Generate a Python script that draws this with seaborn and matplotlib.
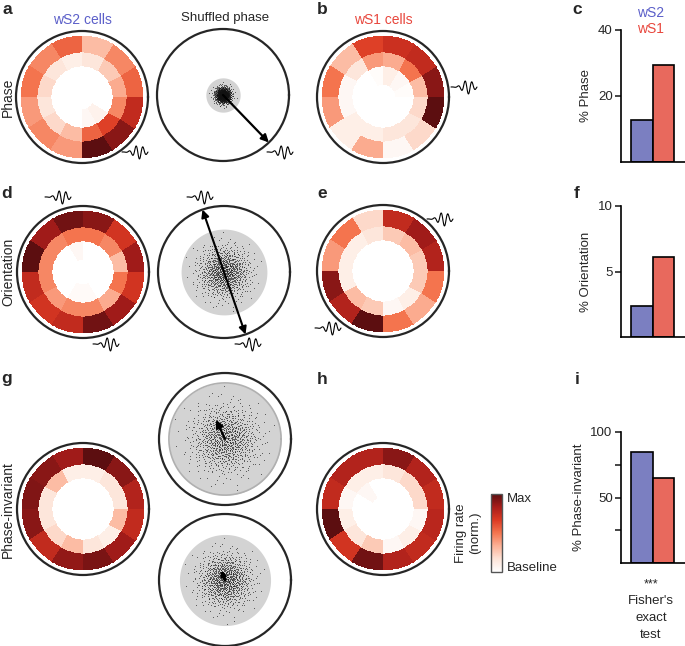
import numpy as np
import matplotlib
matplotlib.use("Agg")
import matplotlib.pyplot as plt
from matplotlib.colors import LinearSegmentedColormap, Normalize
from matplotlib.cm import ScalarMappable
import seaborn as sns

# ---- data ----
# firing rate (norm.) per 30 deg sector, sectors start at 0 deg (east), counter-clockwise
# rings: inner, middle, outer
phase_ws2 = [
    [0, 0, 0, 0, 0, 0, 0, 0, 0, 0.05, 0.08, 0],
    [0.35, 0.25, 0.15, 0.1, 0.15, 0.2, 0.15, 0.2, 0.3, 0.55, 0.65, 0.45],
    [0.55, 0.45, 0.3, 0.55, 0.45, 0.5, 0.4, 0.45, 0.4, 1.0, 0.9, 0.75],
]
phase_ws1 = [
    [0.02, 0.05, 0.1, 0.02, 0, 0, 0, 0, 0, 0, 0, 0],
    [0.3, 0.5, 0.35, 0.4, 0.15, 0.05, 0.05, 0.1, 0.1, 0.15, 0.15, 0.2],
    [0.9, 0.75, 0.72, 0.65, 0.3, 0.5, 0.4, 0.1, 0.35, 0.05, 0.2, 1.0],
]
orient_ws2 = [
    [0, 0, 0, 0.05, 0, 0, 0, 0, 0.03, 0.03, 0, 0],
    [0.3, 0.45, 0.5, 0.5, 0.45, 0.45, 0.45, 0.4, 0.45, 0.45, 0.35, 0.5],
    [0.85, 0.7, 0.9, 0.95, 0.85, 1.0, 0.75, 0.7, 0.75, 0.95, 0.85, 0.7],
]
orient_ws1 = [
    [0, 0, 0, 0, 0, 0, 0, 0, 0, 0, 0, 0],
    [0.25, 0.3, 0.25, 0.15, 0.1, 0.1, 0.1, 0.3, 0.25, 0.05, 0.1, 0.25],
    [0.8, 0.85, 0.75, 0.2, 0.5, 0.4, 0.9, 0.8, 1.0, 0.5, 0.35, 0.5],
]
invar_ws2 = [
    [0, 0, 0, 0, 0, 0, 0, 0, 0, 0, 0, 0],
    [0.15, 0.15, 0.1, 0.1, 0.3, 0.15, 0.15, 0.2, 0.3, 0.15, 0.1, 0.3],
    [0.8, 0.9, 1.0, 0.85, 0.9, 0.92, 0.9, 0.75, 0.88, 0.93, 0.85, 0.75],
]
invar_ws1 = [
    [0, 0, 0, 0, 0.05, 0, 0, 0, 0, 0, 0, 0],
    [0.2, 0.2, 0.15, 0.1, 0.1, 0.05, 0.1, 0.15, 0.25, 0.05, 0.1, 0.05],
    [0.75, 0.8, 0.9, 0.8, 0.8, 0.75, 1.0, 0.7, 0.95, 0.8, 0.75, 0.78],
]
ring_edges = [0.2, 0.5, 0.73, 1.0]

# shuffled distributions: spread of cloud, grey area radius, arrow angle (deg), arrow length
shuf_sigma = [0.06, 0.19, 0.25, 0.2]
shuf_grey = [0.26, 0.65, 0.85, 0.69]
shuf_angle = [-46, -71, 115, 112]
shuf_len = [1.0, 1.0, 0.32, 0.16]

groups = ["wS2", "wS1"]
pct_phase = [12.7, 29.4]
pct_orient = [2.4, 6.1]
pct_invar = [85, 64.6]

blue = "#7b7fc1"
red = "#e8695d"
blue_txt = "#5b5fc9"
red_txt = "#e8473d"

sns.set_style("white")
plt.rcParams["font.family"] = ["Liberation Sans", "DejaVu Sans"]

W, H = 685, 646
fig = plt.figure(figsize=(W / 100, H / 100), dpi=100)

cmap = LinearSegmentedColormap.from_list(
    "fr", ["#ffffff", "#fde3d7", "#fcb196", "#f4754f", "#dc3a23", "#a81d1a", "#5c0e10"])


def fx(x):
    return x / W


def fy(y):
    return 1 - y / H


def halton(n, base):
    out = np.zeros(n)
    for i in range(n):
        f, r, k = 1.0, 0.0, i + 1
        while k > 0:
            f /= base
            r += f * (k % base)
            k //= base
        out[i] = r
    return out


def circle_ax(cx, cy, r=66):
    ax = fig.add_axes([fx(cx - r), fy(cy + r), 2 * r / W, 2 * r / H], projection="polar")
    ax.set_xticks([])
    ax.set_yticks([])
    ax.grid(False)
    ax.spines["polar"].set_linewidth(1.6)
    return ax


def heat(cx, cy, vals):
    ax = circle_ax(cx, cy)
    sub = 10
    th = np.linspace(0, 2 * np.pi, 12 * sub + 1)
    ax.pcolormesh(th, ring_edges, np.repeat(np.array(vals), sub, axis=1),
                  cmap=cmap, vmin=0, vmax=1, shading="flat", linewidth=0, antialiased=False)
    ax.set_ylim(0, 1.08)
    return ax


def shuffled(cx, cy, i, double=False, edge=None):
    ax = circle_ax(cx, cy)
    tc = np.linspace(0, 2 * np.pi, 200)
    ax.fill_between(tc, 0, shuf_grey[i], color="#d3d3d3", lw=0)
    if edge:
        ax.plot(tc, np.full_like(tc, shuf_grey[i]), color=edge, lw=1.2)
    # deterministic low-discrepancy cloud with a 2D gaussian profile
    n = 1000
    u1, u2 = halton(n, 2), halton(n, 3)
    rr = shuf_sigma[i] * np.sqrt(-2 * np.log(u1))
    tt = 2 * np.pi * u2
    keep = rr < shuf_grey[i] * 0.97
    ax.scatter(tt[keep], rr[keep], s=0.25, color="#111111", linewidths=0)
    a = np.deg2rad(shuf_angle[i])
    if double:
        ax.annotate("", xy=(a, shuf_len[i]), xytext=(a + np.pi, shuf_len[i]),
                    arrowprops=dict(arrowstyle="<|-|>", color="black", lw=1.5,
                                    shrinkA=0, shrinkB=0, mutation_scale=11))
    else:
        ax.annotate("", xy=(a, shuf_len[i]), xytext=(0, 0),
                    arrowprops=dict(arrowstyle="-|>", color="black", lw=1.6 if i != 3 else 2.2,
                                    shrinkA=0, shrinkB=0, mutation_scale=11 if i != 3 else 6))
    ax.set_ylim(0, 1.0)
    return ax


heat(82, 97, phase_ws2)
shuffled(223, 95, 0)
heat(383, 97, phase_ws1)
heat(83, 272, orient_ws2)
shuffled(224, 272, 1, double=True)
heat(383, 271, orient_ws1)
heat(83, 509, invar_ws2)
shuffled(225, 439, 2, edge="#b0b0b0")
shuffled(225, 580, 3)
heat(383, 509, invar_ws1)

# stimulus wavelets (overlay)
ov = fig.add_axes([0, 0, 1, 1], zorder=5)
ov.set_xlim(0, W)
ov.set_ylim(H, 0)
ov.axis("off")
ov.patch.set_alpha(0)
wave_pos = [(135, 152), (280, 152), (464, 87), (58, 197), (106, 344),
            (200, 197), (248, 344), (440, 219), (328, 328)]
u = np.linspace(-1, 1, 120)
wave = np.sin(2 * np.pi * 1.9 * u + 0.6) * np.exp(-((u - 0.3) ** 2) / 0.3)
for (wx, wy) in wave_pos:
    ov.plot(wx + 13 * u, wy - 7 * wave, color="black", lw=0.8)

# colorbar
cax = fig.add_axes([fx(491), fy(572), 11 / W, 78 / H])
cb = fig.colorbar(ScalarMappable(norm=Normalize(0, 1), cmap=cmap), cax=cax)
cb.set_ticks([])
cb.outline.set_edgecolor("#555555")
cb.outline.set_linewidth(1.0)
fig.text(fx(507), fy(499), "Max", fontsize=9.5, va="center", ha="left")
fig.text(fx(507), fy(568), "Baseline", fontsize=9.5, va="center", ha="left")
fig.text(fx(468), fy(533), "Firing rate\n(norm.)", fontsize=9.5, rotation=90,
         va="center", ha="center", multialignment="center")


# bar panels
def bars(ytop, ybot, vals, ymax, ticks, labels, ylabel):
    ax = fig.add_axes([fx(621), fy(ybot), 64 / W, (ybot - ytop) / H])
    sns.barplot(x=groups, y=vals, hue=groups, palette=[blue, red], width=1.0,
                saturation=1, edgecolor="black", linewidth=1.2, legend=False, ax=ax)
    ax.set_xlim(-0.965, 2.01)
    ax.set_ylim(0, ymax)
    ax.set_xticks([])
    ax.set_yticks(ticks)
    ax.set_yticklabels(labels, fontsize=9.5)
    ax.tick_params(axis="y", left=True, direction="out", length=4, width=1.2, pad=2)
    for s in ["top", "right"]:
        ax.spines[s].set_visible(False)
    for s in ["left", "bottom"]:
        ax.spines[s].set_linewidth(1.2)
        ax.spines[s].set_color("black")
    ax.set_ylabel(ylabel, fontsize=9.5, labelpad=4)
    ax.set_xlabel("")
    return ax


bars(30, 162, pct_phase, 40, [20, 40], ["20", "40"], "% Phase")
bars(206, 337, pct_orient, 10, [5, 10], ["5", "10"], "% Orientation")
bars(432, 563, pct_invar, 100, [25, 50, 75, 100], ["", "50", "", "100"], "% Phase-invariant")

fig.text(fx(637), fy(13), "wS2", color=blue_txt, fontsize=10, va="center", ha="left")
fig.text(fx(637), fy(29), "wS1", color=red_txt, fontsize=10, va="center", ha="left")
fig.text(fx(651), fy(584), "***", fontsize=9, ha="center", va="center")
fig.text(fx(651), fy(618), "Fisher's\nexact\ntest", fontsize=9.5, ha="center", va="center",
         multialignment="center", linespacing=1.55)

# titles and row labels
fig.text(fx(82), fy(20), "wS2 cells", color=blue_txt, fontsize=10, ha="center", va="center")
fig.text(fx(225), fy(18), "Shuffled phase", fontsize=9.5, ha="center", va="center")
fig.text(fx(383), fy(20), "wS1 cells", color=red_txt, fontsize=10, ha="center", va="center")
fig.text(fx(8), fy(97), "Phase", fontsize=10, rotation=90, ha="center", va="center")
fig.text(fx(8), fy(272), "Orientation", fontsize=10, rotation=90, ha="center", va="center")
fig.text(fx(8), fy(510), "Phase-invariant", fontsize=10, rotation=90, ha="center", va="center")

for lab, x, y in [("a", 7, 9), ("b", 322, 9), ("c", 577, 9), ("d", 7, 193), ("e", 322, 193),
                  ("f", 577, 193), ("g", 7, 379), ("h", 322, 379), ("i", 577, 379)]:
    fig.text(fx(x), fy(y), lab, fontsize=12.5, fontweight="bold", ha="center", va="center")

fig.savefig("out.png", dpi=100)
